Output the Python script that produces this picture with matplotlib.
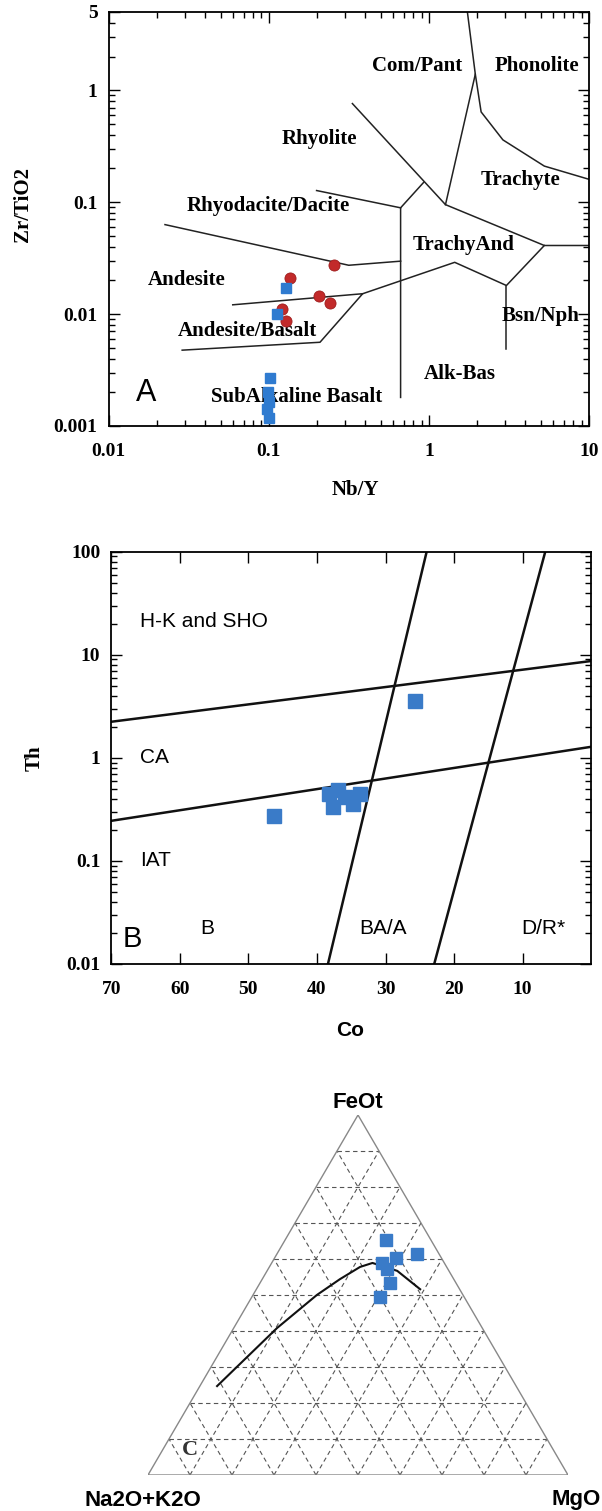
import numpy as np
import matplotlib
matplotlib.use("Agg")
import matplotlib.pyplot as plt
from matplotlib.ticker import LogLocator, NullFormatter, FixedLocator

SERIF = "Liberation Serif"
SANS = "Liberation Sans"

# ---------------- Panel A data (Winchester & Floyd Zr/TiO2 vs Nb/Y) -------------
a_red_nby = [0.255, 0.136, 0.206, 0.243, 0.121, 0.128]
a_red_zr = [0.0273, 0.0211, 0.0146, 0.0126, 0.0112, 0.0086]
a_blue_nby = [0.129, 0.112, 0.102, 0.099, 0.101, 0.098, 0.100]
a_blue_zr = [0.0171, 0.0100, 0.0027, 0.00203, 0.00165, 0.00143, 0.00118]

a_xticks = [0.01, 0.1, 1, 10]
a_xticklabels = ["0.01", "0.1", "1", "10"]
a_yticks = [0.001, 0.01, 0.1, 1, 5]
a_yticklabels = ["0.001", "0.01", "0.1", "1", "5"]

a_boundaries = [
    [(1.74, 5.0), (1.95, 1.39), (1.27, 0.095)],
    [(1.95, 1.39), (2.12, 0.64), (2.90, 0.36), (5.26, 0.21), (10.0, 0.16)],
    [(0.333, 0.76), (1.27, 0.095), (5.26, 0.041), (10.0, 0.041)],
    [(0.927, 0.15), (0.666, 0.089), (0.666, 0.0018)],
    [(0.199, 0.127), (0.666, 0.089)],
    [(0.0225, 0.063), (0.316, 0.0273), (0.666, 0.0297)],
    [(5.26, 0.041), (3.05, 0.018), (1.45, 0.029), (0.386, 0.0152)],
    [(3.05, 0.018), (3.05, 0.00486)],
    [(0.0596, 0.0121), (0.386, 0.0152), (0.209, 0.0056), (0.0288, 0.00476)],
]
a_fields = ["Com/Pant", "Phonolite", "Rhyolite", "Trachyte", "Rhyodacite/Dacite",
            "TrachyAnd", "Andesite", "Bsn/Nph", "Andesite/Basalt", "Alk-Bas",
            "SubAlkaline Basalt"]
a_field_x = [0.84, 4.76, 0.206, 3.72, 0.0995, 1.65, 0.0308, 5.0, 0.074, 1.57, 0.150]
a_field_y = [1.64, 1.64, 0.37, 0.157, 0.093, 0.041, 0.020, 0.0097, 0.00706, 0.0029, 0.0018]

# ---------------- Panel B data (Th vs Co) -------------
b_co = [25.7, 46.2, 38.3, 37.6, 35.9, 34.7, 33.7, 36.9]
b_th = [3.6, 0.27, 0.45, 0.33, 0.42, 0.355, 0.45, 0.485]
b_xticks = [70, 60, 50, 40, 30, 20, 10]
b_yticks = [0.01, 0.1, 1, 10, 100]
b_yticklabels = ["0.01", "0.1", "1", "10", "100"]
b_boundaries = [
    [(70, 2.24), (0, 8.7)],
    [(70, 0.245), (0, 1.28)],
    [(38.4, 0.01), (24.0, 100)],
    [(22.9, 0.01), (6.7, 100)],
]
b_fields = ["H-K and SHO", "CA", "IAT"]
b_field_co = [65.8, 65.8, 65.8]
b_field_th = [21.0, 1.0, 0.1]
b_rock = ["B", "BA/A", "D/R*"]
b_rock_co = [56.0, 30.3, 7.0]

# ---------------- Panel C data (AFM ternary) -------------
c_A = [0.108, 0.053, 0.107, 0.148, 0.145, 0.157, 0.200]
c_F = [0.652, 0.613, 0.604, 0.590, 0.572, 0.534, 0.495]
c_M = [0.240, 0.334, 0.289, 0.262, 0.283, 0.309, 0.305]
curve_A = [0.712, 0.489, 0.348, 0.271, 0.206, 0.171, 0.123, 0.094]
curve_F = [0.247, 0.408, 0.500, 0.544, 0.578, 0.589, 0.567, 0.516]
curve_M = [0.041, 0.103, 0.152, 0.185, 0.216, 0.240, 0.310, 0.390]

RED = "#c22a2a"
BLUE = "#2f7bd0"

W, H = 602, 1511
fig = plt.figure(figsize=(W / 100, H / 100), dpi=100)


def box(l, r, t, b):
    return [l / W, 1 - b / H, (r - l) / W, (b - t) / H]


# ================= Panel A =================
ax = fig.add_axes(box(108.6, 589, 12, 426))
ax.set_xscale("log")
ax.set_yscale("log")
ax.set_xlim(0.01, 10)
ax.set_ylim(0.001, 5)
for seg in a_boundaries:
    xs, ys = zip(*seg)
    ax.plot(xs, ys, color="#222222", lw=1.1, zorder=2)
for name, x, y in zip(a_fields, a_field_x, a_field_y):
    ax.text(x, y, name, ha="center", va="center", fontfamily=SERIF,
            fontweight="bold", fontsize=15, zorder=3)
ax.plot(a_red_nby, a_red_zr, "o", color=RED, ms=8, mec="#9e1d1d", mew=0.6, zorder=4)
ax.plot(a_blue_nby, a_blue_zr, "s", color=BLUE, ms=7.5, mec=BLUE, zorder=4)
ax.text(0.0171, 0.00199, "A", ha="center", va="center", fontfamily=SANS,
        fontsize=22, zorder=3)
ax.xaxis.set_major_locator(FixedLocator(a_xticks))
ax.set_xticklabels(a_xticklabels)
ax.yaxis.set_major_locator(FixedLocator(a_yticks))
ax.set_yticklabels(a_yticklabels)
ax.xaxis.set_minor_locator(LogLocator(base=10, subs=np.arange(2, 10)))
ax.yaxis.set_minor_locator(LogLocator(base=10, subs=np.arange(2, 10)))
ax.xaxis.set_minor_formatter(NullFormatter())
ax.yaxis.set_minor_formatter(NullFormatter())
ax.tick_params(which="both", direction="in", top=True, right=True, width=1.0)
ax.tick_params(which="major", length=8)
ax.tick_params(which="minor", length=4)
ax.tick_params(axis="x", which="major", pad=12)
ax.tick_params(axis="y", which="major", pad=8)
for lab in ax.get_xticklabels() + ax.get_yticklabels():
    lab.set_fontfamily(SERIF)
    lab.set_fontweight("bold")
    lab.set_fontsize(14)
for s in ax.spines.values():
    s.set_linewidth(1.3)

fig.text(23 / W, 1 - 205 / H, "Zr/TiO2", rotation=90, ha="center", va="center",
         fontfamily=SERIF, fontweight="bold", fontsize=15)
fig.text(355 / W, 1 - 490 / H, "Nb/Y", ha="center", va="center",
         fontfamily=SERIF, fontweight="bold", fontsize=15)

# ================= Panel B =================
bx = fig.add_axes(box(111.3, 591.2, 551.7, 964))
bx.set_yscale("log")
bx.set_xlim(70, 0)
bx.set_ylim(0.01, 100)
for seg in b_boundaries:
    xs, ys = zip(*seg)
    bx.plot(xs, ys, color="#111111", lw=1.8, zorder=2)
bx.plot(b_co, b_th, "s", color="#3a7bc8", ms=9.5, mec="#3a7bc8", zorder=4)
for name, x, y in zip(b_fields, b_field_co, b_field_th):
    bx.text(x, y, name, ha="left", va="center", fontfamily=SANS, fontsize=15, zorder=3)
for name, x in zip(b_rock, b_rock_co):
    bx.text(x, 0.022, name, ha="center", va="center", fontfamily=SANS, fontsize=15, zorder=3)
bx.text(67.0, 0.0175, "B", ha="center", va="center", fontfamily=SANS, fontsize=21, zorder=3)
bx.xaxis.set_major_locator(FixedLocator(b_xticks))
bx.set_xticklabels([str(v) for v in b_xticks])
bx.yaxis.set_major_locator(FixedLocator(b_yticks))
bx.set_yticklabels(b_yticklabels)
bx.yaxis.set_minor_locator(LogLocator(base=10, subs=np.arange(2, 10)))
bx.yaxis.set_minor_formatter(NullFormatter())
bx.tick_params(which="both", direction="in", top=True, right=True, width=1.0)
bx.tick_params(which="major", length=8)
bx.tick_params(which="minor", length=4)
bx.tick_params(axis="x", which="major", pad=12)
bx.tick_params(axis="y", which="major", pad=8)
for lab in bx.get_xticklabels() + bx.get_yticklabels():
    lab.set_fontfamily(SERIF)
    lab.set_fontweight("bold")
    lab.set_fontsize(14)
for s in bx.spines.values():
    s.set_linewidth(1.3)

fig.text(35 / W, 1 - 758 / H, "Th", rotation=90, ha="center", va="center",
         fontfamily=SERIF, fontweight="bold", fontsize=15)
fig.text(350 / W, 1 - 1030 / H, "Co", ha="center", va="center",
         fontfamily=SANS, fontweight="bold", fontsize=15)

# ================= Panel C (ternary) =================
R3 = np.sqrt(3) / 2
cx = fig.add_axes(box(148, 568, 1115, 1475))
cx.set_xlim(0, 1)
cx.set_ylim(0, R3)
cx.axis("off")


def tern(A, F, M):
    A, F, M = np.asarray(A, float), np.asarray(F, float), np.asarray(M, float)
    s = A + F + M
    F, M = F / s, M / s
    return M + F / 2, F * R3


dash_kw = dict(color="#555555", lw=0.8, ls=(0, (4, 3)), zorder=1)
for i in range(1, 10):
    v = i / 10
    x0, y0 = tern(1 - v, v, 0)
    x1, y1 = tern(0, v, 1 - v)
    cx.plot([x0, x1], [y0, y1], **dash_kw)
    x0, y0 = tern(1 - v, 0, v)
    x1, y1 = tern(0, 1 - v, v)
    cx.plot([x0, x1], [y0, y1], **dash_kw)
    x0, y0 = tern(v, 0, 1 - v)
    x1, y1 = tern(v, 1 - v, 0)
    cx.plot([x0, x1], [y0, y1], **dash_kw)

tx, ty = tern([1, 0, 0, 1], [0, 1, 0, 0], [0, 0, 1, 0])
cx.plot(tx, ty, color="#888888", lw=1.0, zorder=2)
kx, ky = tern(curve_A, curve_F, curve_M)
cx.plot(kx, ky, color="#111111", lw=1.5, zorder=3)
px, py = tern(c_A, c_F, c_M)
cx.plot(px, py, "s", color="#3a7bc8", ms=8.5, mec="#3a7bc8", zorder=4)
cx.text(0.1, 0.06, "C", ha="center", va="center", fontfamily=SERIF,
        fontweight="bold", fontsize=16, color="#333333")

fig.text(358 / W, 1 - 1102 / H, "FeOt", ha="center", va="center",
         fontfamily=SANS, fontweight="bold", fontsize=16)
fig.text(143 / W, 1 - 1500 / H, "Na2O+K2O", ha="center", va="center",
         fontfamily=SANS, fontweight="bold", fontsize=16)
fig.text(601 / W, 1 - 1500 / H, "MgO", ha="right", va="center",
         fontfamily=SANS, fontweight="bold", fontsize=16)

fig.savefig("out.png", dpi=100)
